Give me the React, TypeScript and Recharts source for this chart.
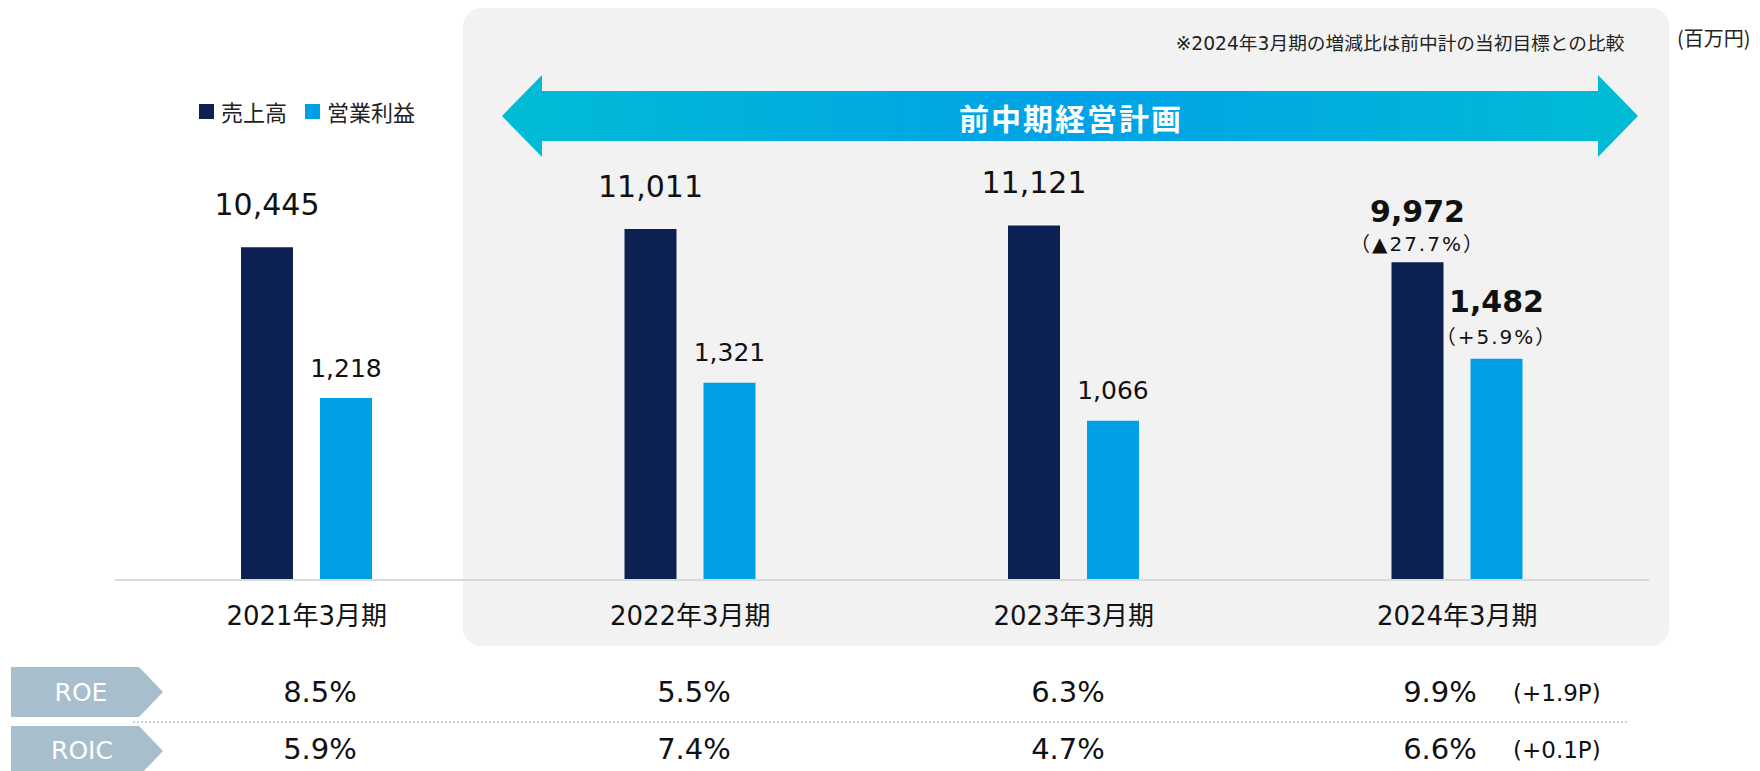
import React from "react";
import { ComposedChart, Bar, XAxis, YAxis, LabelList, Legend } from "recharts";

// ---------- data ----------
const categories = ["2021年3月期", "2022年3月期", "2023年3月期", "2024年3月期"];
const sales = [10445, 11011, 11121, 9972];
const profit = [1218, 1321, 1066, 1482];
const salesNote = ["", "", "", "（▲27.7%）"];
const profitNote = ["", "", "", "（+5.9%）"];
const roe = ["8.5%", "5.5%", "6.3%", "9.9%"];
const roic = ["5.9%", "7.4%", "4.7%", "6.6%"];
const roeNote = ["", "", "", "(+1.9P)"];
const roicNote = ["", "", "", "(+0.1P)"];
const seriesNames = ["売上高", "営業利益"];
const planTitle = "前中期経営計画";
const footnote = "※2024年3月期の増減比は前中計の当初目標との比較";
const unitLabel = "(百万円)";
const HIGHLIGHT_INDEX = 3;

const data = categories.map((c, i) => ({
  category: c,
  sales: sales[i],
  profit: profit[i],
}));

// ---------- styles ----------
const NAVY = "#0C2152";
const BLUE = "#00A0E6";
const TEXT = "#111111";
const NUM_FONT = "'DejaVu Sans', 'Noto Sans CJK JP', sans-serif";
const JP_FONT = "'Noto Sans CJK JP', sans-serif";
const ROW_X = [320, 694, 1068, 1440];

const fmt = (v: number) => v.toLocaleString("en-US");

const makeLabel = (kind: "sales" | "profit") => (props: any) => {
  const { x, y, width, value, index } = props;
  const cx = Number(x) + Number(width) / 2;
  const top = Number(y);
  if (index === HIGHLIGHT_INDEX) {
    const note = kind === "sales" ? salesNote[index] : profitNote[index];
    const mainOff = kind === "sales" ? 51 : 57;
    const noteOff = kind === "sales" ? 18 : 22;
    return (
      <g>
        <text x={cx} y={top - mainOff} textAnchor="middle" dominantBaseline="central"
          fontFamily={NUM_FONT} fontSize={30} fontWeight="bold" fill={TEXT}>{fmt(value)}</text>
        <text x={cx} y={top - noteOff} textAnchor="middle" dominantBaseline="central"
          fontFamily={NUM_FONT} fontSize={20} letterSpacing={2} fill={TEXT}>{note}</text>
      </g>
    );
  }
  const off = kind === "sales" ? 43 : 30;
  const fs = kind === "sales" ? 30 : 25;
  return (
    <text x={cx} y={top - off} textAnchor="middle" dominantBaseline="central"
      fontFamily={NUM_FONT} fontSize={fs} fill={TEXT}>{fmt(value)}</text>
  );
};

const renderTick = (props: any) => {
  const { x, y, payload } = props;
  return (
    <text x={x} y={y} dy={28} textAnchor="middle" dominantBaseline="central"
      fontFamily={NUM_FONT} fontSize={26} fill={TEXT}>{payload.value}</text>
  );
};

const renderLegend = (props: any) => {
  const payload = [...(props.payload || [])].sort(
    (a: any, b: any) => seriesNames.indexOf(a.value) - seriesNames.indexOf(b.value)
  );
  return (
    <div style={{ display: "flex", alignItems: "center", fontFamily: JP_FONT, fontSize: 22, color: "#222", whiteSpace: "nowrap" }}>
      {payload.map((p: any, i: number) => (
        <span key={i} style={{ display: "flex", alignItems: "center", marginRight: 18 }}>
          <span style={{ display: "inline-block", width: 15, height: 15, background: p.color, marginRight: 7 }} />
          {p.value}
        </span>
      ))}
    </div>
  );
};

export default function App() {
  return (
    <div style={{ position: "absolute", left: 0, top: 0, width: 1760, height: 771, overflow: "hidden", background: "#fff" }}>
      {/* plan period background */}
      <div style={{ position: "absolute", left: 463, top: 8, width: 1206, height: 638, background: "#F2F2F2", borderRadius: 18 }} />

      <div style={{ position: "absolute", left: 0, top: 0 }}>
        <ComposedChart width={1760} height={771} data={data}
          margin={{ top: 102, right: 111, bottom: 141, left: 115 }}
          barGap={27} barSize={52}>
          <XAxis dataKey="category" height={50} interval={0} tickLine={false}
            axisLine={{ stroke: "#D9D9D9", strokeWidth: 2 }} tick={renderTick} />
          <YAxis yAxisId="sales" domain={[0, 15000]} hide />
          <YAxis yAxisId="profit" orientation="right" domain={[0, 3200]} hide />
          <Legend layout="horizontal" align="center" verticalAlign="middle" content={renderLegend}
            wrapperStyle={{ position: "absolute", left: 199, top: 95, width: "auto" }} />
          <Bar yAxisId="sales" dataKey="sales" name={seriesNames[0]} fill={NAVY} isAnimationActive={false}>
            <LabelList dataKey="sales" content={makeLabel("sales")} />
          </Bar>
          <Bar yAxisId="profit" dataKey="profit" name={seriesNames[1]} fill={BLUE} isAnimationActive={false}>
            <LabelList dataKey="profit" content={makeLabel("profit")} />
          </Bar>
        </ComposedChart>
      </div>

      <svg width={1760} height={771} style={{ position: "absolute", left: 0, top: 0, pointerEvents: "none" }}>
        <defs>
          <linearGradient id="arrowGrad" x1="0" y1="0" x2="1" y2="0">
            <stop offset="0" stopColor="#00BCD5" />
            <stop offset="0.5" stopColor="#00A2E6" />
            <stop offset="1" stopColor="#00BCD5" />
          </linearGradient>
        </defs>
        <polygon points="502,116 542,75 542,91 1598,91 1598,75 1638,116 1598,157 1598,141 542,141 542,157"
          fill="url(#arrowGrad)" />
        <text x={1071} y={117} textAnchor="middle" dominantBaseline="central" fontFamily={JP_FONT}
          fontSize={30} fontWeight="bold" letterSpacing={2} fill="#fff">{planTitle}</text>
        <text x={1400} y={43} textAnchor="middle" dominantBaseline="central" fontFamily={NUM_FONT}
          fontSize={18.7} fill="#222">{footnote}</text>
        <text x={1677} y={37} textAnchor="start" dominantBaseline="central" fontFamily={JP_FONT}
          fontSize={20} fill="#222">{unitLabel}</text>

        {/* ROE / ROIC table */}
        <polygon points="11,667 139,667 163,692 139,717 11,717" fill="#A7BECC" />
        <polygon points="11,726 139,726 163,751 139,776 11,776" fill="#A7BECC" />
        <text x={81} y={692} textAnchor="middle" dominantBaseline="central" fontFamily={NUM_FONT} fontSize={25} fill="#fff">ROE</text>
        <text x={82} y={750} textAnchor="middle" dominantBaseline="central" fontFamily={NUM_FONT} fontSize={25} fill="#fff">ROIC</text>
        <line x1={133} y1={722} x2={1627} y2={722} stroke="#C4C4C4" strokeWidth={1.5} strokeDasharray="2 2" />
        {roe.map((v, i) => (
          <text key={"roe" + i} x={ROW_X[i]} y={692} textAnchor="middle" dominantBaseline="central"
            fontFamily={NUM_FONT} fontSize={29} fill={TEXT}>{v}</text>
        ))}
        {roic.map((v, i) => (
          <text key={"roic" + i} x={ROW_X[i]} y={749} textAnchor="middle" dominantBaseline="central"
            fontFamily={NUM_FONT} fontSize={29} fill={TEXT}>{v}</text>
        ))}
        {roeNote.map((v, i) => v ? (
          <text key={"roen" + i} x={ROW_X[i] + 73} y={693} textAnchor="start" dominantBaseline="central"
            fontFamily={NUM_FONT} fontSize={23} fill={TEXT}>{v}</text>
        ) : null)}
        {roicNote.map((v, i) => v ? (
          <text key={"roicn" + i} x={ROW_X[i] + 73} y={750} textAnchor="start" dominantBaseline="central"
            fontFamily={NUM_FONT} fontSize={23} fill={TEXT}>{v}</text>
        ) : null)}
      </svg>
    </div>
  );
}
